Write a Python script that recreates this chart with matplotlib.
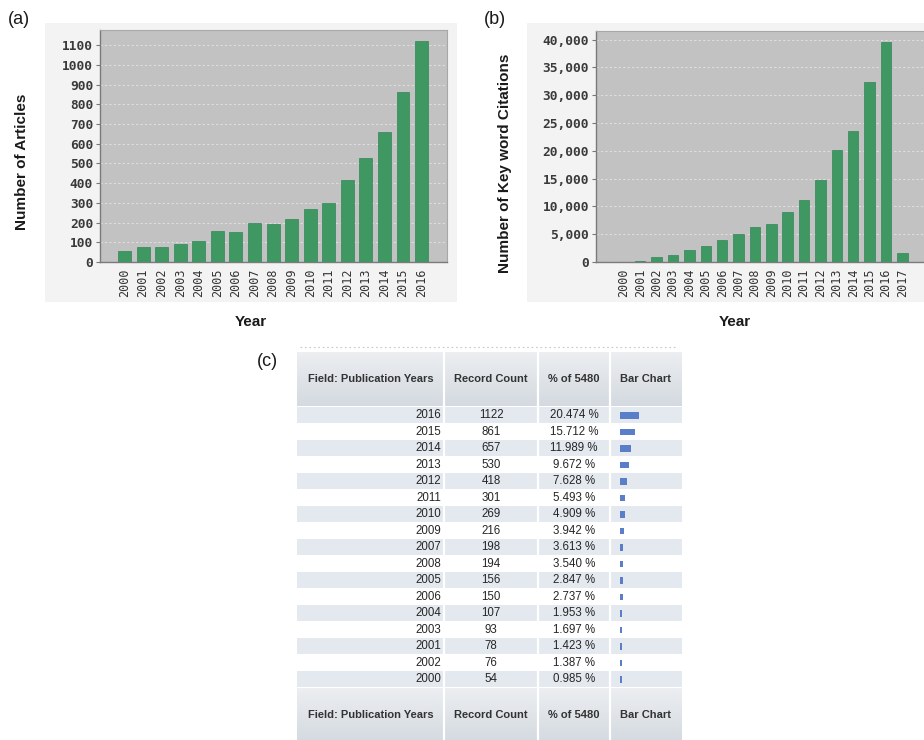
import matplotlib
matplotlib.use('Agg')
import matplotlib.pyplot as plt
import numpy as np
from matplotlib.patches import Rectangle

W, H = 924, 740

# (a) articles per year
years_a = [str(y) for y in range(2000, 2017)]
articles = [54, 78, 76, 93, 107, 156, 150, 198, 194, 216, 269, 301, 418, 530, 657, 861, 1122]

# (b) key word citations per year
years_b = [str(y) for y in range(2000, 2018)]
citations = [60, 250, 900, 1250, 2100, 2870, 3900, 5030, 6230, 6830, 9040, 11200,
             14730, 20120, 23530, 32340, 39640, 1620]

# (c) record count table, sorted by count
table_years = ['2016', '2015', '2014', '2013', '2012', '2011', '2010', '2009', '2007',
               '2008', '2005', '2006', '2004', '2003', '2001', '2002', '2000']
table_counts = [1122, 861, 657, 530, 418, 301, 269, 216, 198, 194, 156, 150, 107, 93, 78, 76, 54]
table_pcts = [20.474, 15.712, 11.989, 9.672, 7.628, 5.493, 4.909, 3.942, 3.613, 3.540,
              2.847, 2.737, 1.953, 1.697, 1.423, 1.387, 0.985]
table_header = ['Field: Publication Years', 'Record Count', '% of 5480', 'Bar Chart']

SANS = 'Liberation Sans'
MONO = 'DejaVu Sans Mono'


def px_axes(fig, x0, y0, x1, y1, **kw):
    return fig.add_axes([x0 / W, 1 - y1 / H, (x1 - x0) / W, (y1 - y0) / H], **kw)


def bar_panel(ax, cats, vals, width, xlim, ylim, yticks, ylabels):
    ax.set_facecolor('#c2c2c2')
    ax.bar(np.arange(len(cats)), vals, width=width, color='#3f9762',
           edgecolor='#33855a', linewidth=0.5, zorder=3)
    ax.set_xlim(*xlim)
    ax.set_ylim(*ylim)
    ax.set_yticks(yticks)
    ax.set_yticklabels(ylabels, family=MONO, fontweight='bold', fontsize=9.3, color='#3a3a3a')
    ax.set_xticks(np.arange(len(cats)))
    ax.set_xticklabels(cats, rotation=90, family=MONO, fontsize=8.5, color='#333333')
    ax.yaxis.grid(True, color='#dedede', linestyle=(0, (2, 2)), linewidth=0.8)
    ax.set_axisbelow(True)
    ax.tick_params(axis='x', length=0, pad=5)
    ax.tick_params(axis='y', length=3, color='#777777', pad=2)
    for s in ['left', 'bottom']:
        ax.spines[s].set_color('#7a7a7a')
        ax.spines[s].set_linewidth(1.0)
    for s in ['top', 'right']:
        ax.spines[s].set_color('#a8a8a8')
        ax.spines[s].set_linewidth(0.8)


fig = plt.figure(figsize=(W / 100, H / 100), dpi=100)
fig.patch.set_facecolor('white')

# full-figure pixel canvas for backgrounds and the table
bg = fig.add_axes([0, 0, 1, 1])
bg.set_xlim(0, W)
bg.set_ylim(H, 0)
bg.axis('off')

bg.add_patch(Rectangle((45, 23), 412, 279, facecolor='#f3f3f3', edgecolor='none'))
bg.add_patch(Rectangle((527, 23), 420, 279, facecolor='#f3f3f3', edgecolor='none'))

ax1 = px_axes(fig, 100, 30, 447, 262)
bar_panel(ax1, years_a, articles, 0.7, (-1.32, 17.37), (0, 1177),
          range(0, 1101, 100), [str(v) for v in range(0, 1101, 100)])
ax1.set_zorder(2)

ax2 = px_axes(fig, 596, 31, 945, 262)
bar_panel(ax2, years_b, citations, 0.64, (-1.7, 19.6), (0, 41550),
          range(0, 40001, 5000), ['{:,}'.format(v) for v in range(0, 40001, 5000)])
ax2.set_zorder(2)

lab = dict(family=SANS, fontweight='bold', fontsize=11, color='#1a1a1a')
fig.text(22 / W, 1 - 162 / H, 'Number of Articles', rotation=90, ha='center', va='center', **lab)
fig.text(251 / W, 1 - 322 / H, 'Year', ha='center', va='center', **lab)
fig.text(505 / W, 1 - 163 / H, 'Number of Key word Citations', rotation=90,
         ha='center', va='center', **lab)
fig.text(735 / W, 1 - 322 / H, 'Year', ha='center', va='center', **lab)

panel = dict(family=SANS, fontsize=13, color='#1a1a1a', ha='left', va='center')
fig.text(8 / W, 1 - 20 / H, '(a)', **panel)
fig.text(484 / W, 1 - 20 / H, '(b)', **panel)
fig.text(257 / W, 1 - 362 / H, '(c)', **panel)

# ---- table (c) ----
col_edges = [297, 444, 538, 610, 682]
row_h = 16.5
head_top, head_h = 352, 54
rows_top = head_top + head_h + 1
foot_top = rows_top + row_h * len(table_years) + 1

# faint dotted rule above the header
bg.plot([300, 676], [347, 347], color='#c8c8c8', linestyle=(0, (1.5, 2.5)), linewidth=0.8)

grad = np.linspace(0, 1, 50)[:, None]
head_cmap = matplotlib.colors.LinearSegmentedColormap.from_list('hd', ['#eceef1', '#d4dae0'])
for top in (head_top, foot_top):
    bg.imshow(grad, cmap=head_cmap, aspect='auto',
              extent=(col_edges[0], col_edges[-1], top + head_h, top), zorder=1)
    for x in col_edges[1:-1]:
        bg.plot([x, x], [top, top + head_h], color='white', linewidth=1.6, zorder=2)
    for i, txt in enumerate(table_header):
        bg.text((col_edges[i] + col_edges[i + 1]) / 2, top + head_h / 2 - 0.5, txt,
                family=SANS, fontweight='bold', fontsize=8, color='#333333',
                ha='center', va='center', zorder=3)
bg.set_xlim(0, W)
bg.set_ylim(H, 0)

for i, (yr, cnt, pct) in enumerate(zip(table_years, table_counts, table_pcts)):
    y0 = rows_top + i * row_h
    yc = y0 + row_h / 2
    if i % 2 == 0:
        bg.add_patch(Rectangle((col_edges[0], y0), col_edges[-1] - col_edges[0], row_h - 1,
                               facecolor='#e4e9ef', edgecolor='none', zorder=1))
        for x in col_edges[1:-1]:
            bg.plot([x, x], [y0, y0 + row_h - 1], color='white', linewidth=1.6, zorder=2)
    txt = dict(family=SANS, fontsize=8.3, color='#262626', va='center', zorder=3)
    bg.text(441, yc, yr, ha='right', **txt)
    bg.text(491, yc, str(cnt), ha='center', **txt)
    bg.text(574, yc, '{:.3f} %'.format(pct), ha='center', **txt)
    bg.barh(yc, max(pct * 0.94, 1.8), height=6.5, left=620, color='#5a7fc8', zorder=3)

fig.savefig('out.png', dpi=100)
